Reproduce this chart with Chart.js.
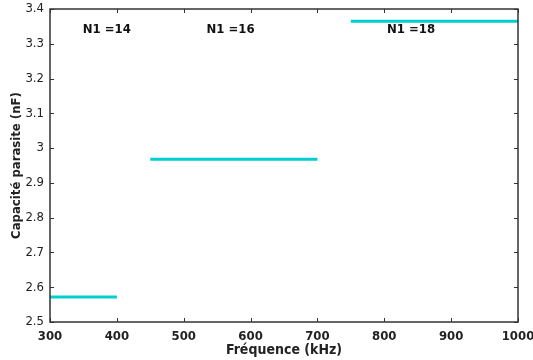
<!DOCTYPE html>
<html>
<head>
<meta charset="utf-8">
<script src="https://cdn.jsdelivr.net/npm/chart.js@4/dist/chart.umd.min.js"></script>
<style>
html,body{margin:0;padding:0;background:#fff;}
#wrap{width:533px;height:360px;}
</style>
</head>
<body>
<div id="wrap"><canvas id="c" width="533" height="360"></canvas></div>
<script>
// Data
const freqStart = [300, 450, 750];
const freqEnd = [400, 700, 1000];
const capacitance = [2.572, 2.968, 3.365];
const turnLabels = ['N1 =14', 'N1 =16', 'N1 =18'];
const labelFreq = [385, 570, 840];
const labelCap = [3.34, 3.34, 3.34];
const xTicks = [300, 400, 500, 600, 700, 800, 900, 1000];
const yTicks = [2.5, 2.6, 2.7, 2.8, 2.9, 3, 3.1, 3.2, 3.3, 3.4];

const FONT = "'DejaVu Sans Condensed', 'DejaVu Sans', sans-serif";
const LINE = '#00CED1';

const datasets = freqStart.map((f, i) => ({
  data: [{x: f, y: capacitance[i]}, {x: freqEnd[i], y: capacitance[i]}],
  borderColor: LINE,
  borderWidth: 3,
  pointRadius: 0,
  fill: false
}));

const boxPlugin = {
  id: 'box',
  afterDatasetsDraw(chart) {
    const {ctx, chartArea: a, scales: {x, y}} = chart;
    ctx.save();
    ctx.strokeStyle = '#333';
    ctx.lineWidth = 1;
    const L = 4;
    ctx.beginPath();
    xTicks.forEach(v => {
      const px = Math.round(x.getPixelForValue(v)) + 0.5;
      ctx.moveTo(px, a.bottom); ctx.lineTo(px, a.bottom - L);
      ctx.moveTo(px, a.top); ctx.lineTo(px, a.top + L);
    });
    yTicks.forEach(v => {
      const py = Math.round(y.getPixelForValue(v)) + 0.5;
      ctx.moveTo(a.left, py); ctx.lineTo(a.left + L, py);
      ctx.moveTo(a.right, py); ctx.lineTo(a.right - L, py);
    });
    ctx.stroke();
    ctx.lineWidth = 1.5;
    ctx.strokeRect(a.left, a.top, a.right - a.left, a.bottom - a.top);
    ctx.fillStyle = '#111';
    ctx.font = 'bold 13px ' + FONT;
    ctx.textAlign = 'center';
    ctx.textBaseline = 'middle';
    turnLabels.forEach((t, i) => {
      ctx.fillText(t, x.getPixelForValue(labelFreq[i]), y.getPixelForValue(labelCap[i]));
    });
    ctx.restore();
  }
};

new Chart(document.getElementById('c'), {
  type: 'line',
  data: {datasets},
  options: {
    responsive: false,
    animation: false,
    plugins: {legend: {display: false}, tooltip: {enabled: false}},
    layout: {padding: {top: 9, right: 15, left: 0, bottom: 0}},
    scales: {
      x: {
        type: 'linear',
        min: 300, max: 1000,
        afterFit(s) { s.height = 38; s.paddingLeft = 0; s.paddingRight = 0; },
        afterBuildTicks(s) { s.ticks = xTicks.map(v => ({value: v})); },
        grid: {display: false, drawTicks: false},
        border: {display: false},
        ticks: {color: '#222', font: {family: FONT, size: 13, weight: 'bold'}, padding: 7, maxRotation: 0,
                callback: v => String(v)},
        title: {display: true, text: 'Fréquence (kHz)', color: '#222', font: {family: FONT, size: 14, weight: 'bold'}, padding: {top: 0, bottom: 1}}
      },
      y: {
        min: 2.5, max: 3.4,
        afterFit(s) { s.width = 50; s.paddingTop = 0; s.paddingBottom = 0; },
        afterBuildTicks(s) { s.ticks = yTicks.map(v => ({value: v})); },
        grid: {display: false, drawTicks: false},
        border: {display: false},
        ticks: {color: '#222', font: {family: FONT, size: 13}, padding: 6,
                callback: v => String(Math.round(v * 10) / 10)},
        title: {display: true, text: 'Capacité parasite (nF)', color: '#222', font: {family: FONT, size: 13, weight: 'bold'}, padding: {top: 9, bottom: 0}}
      }
    }
  },
  plugins: [boxPlugin]
});
</script>
</body>
</html>
